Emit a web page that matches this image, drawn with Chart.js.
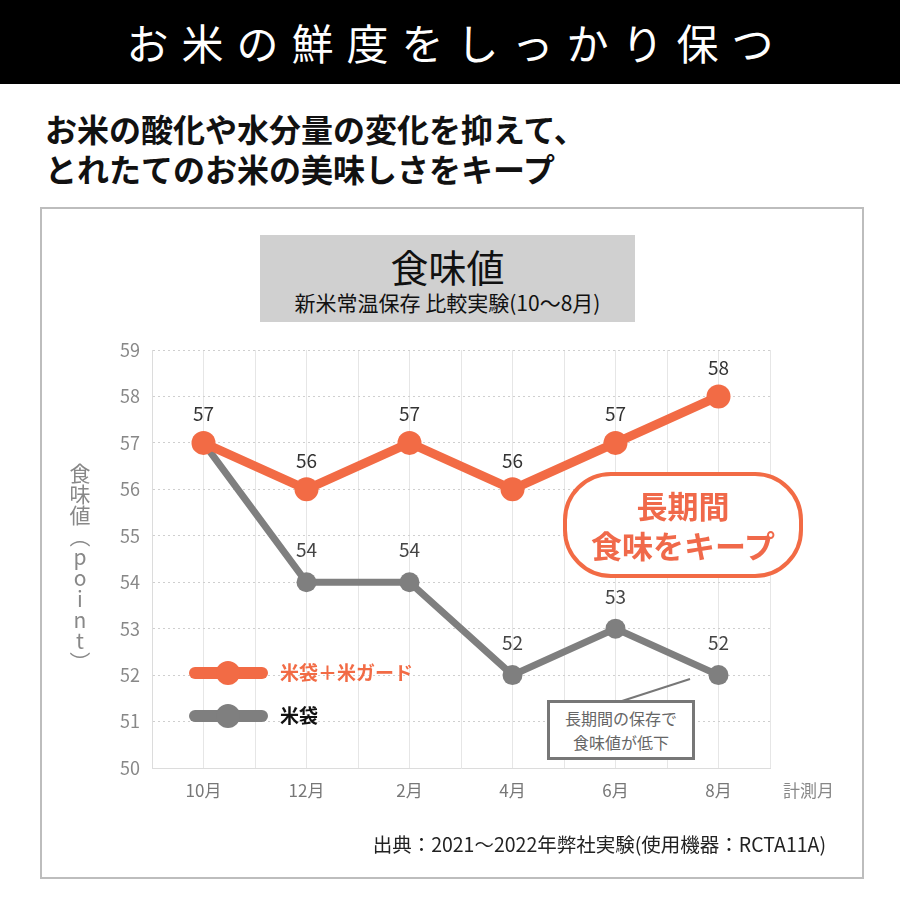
<!DOCTYPE html>
<html lang="ja">
<head>
<meta charset="utf-8">
<script src="https://cdn.jsdelivr.net/npm/chart.js@4"></script>
<style>
  html, body { margin: 0; padding: 0; }
  body { width: 900px; height: 900px; position: relative; background: #fff; overflow: hidden;
         font-family: "Noto Sans CJK JP", "Noto Sans", sans-serif; }
  .abs { position: absolute; }
  #header { left: 0; top: 0; width: 900px; height: 84px; background: #000; color: #fff;
            font-size: 42px; line-height: 84px; text-align: center; letter-spacing: 13px; text-indent: 13px; }
  #lead { left: 45px; top: 108px; font-size: 32px; font-weight: 700; line-height: 40px; color: #111; }
  #frame { left: 40px; top: 207px; width: 820px; height: 668px; border: 2px solid #bdbdbd; }
  #titleBox { left: 260px; top: 235px; width: 375px; height: 87px; background: #d0d0d0; text-align: center; color: #111; }
  #titleBox .big { font-size: 38px; line-height: 44px; margin-top: 9px; }
  #titleBox .small { font-size: 21px; line-height: 28px; }
  #chart { left: 0; top: 0; z-index: 1; }
  .over { z-index: 2; }
  #yTitle { left: 69px; top: 463px; font-size: 21px; color: #888; writing-mode: vertical-rl;
            text-orientation: upright; line-height: 21px; }
  #xTitle { left: 783px; top: 777px; font-size: 17px; color: #888; }
  #keep { left: 563px; top: 472px; width: 232px; height: 98px; border: 4px solid #f26b45; border-radius: 48px;
          background: #fff; color: #f0694a; font-weight: 700; font-size: 31px; line-height: 40px; text-align: center;
          display: flex; flex-direction: column; justify-content: center; }
  #drop { left: 547px; top: 700px; width: 142px; height: 54px; border: 3px solid #777; background: #fff;
          color: #666; font-size: 16px; line-height: 24px; text-align: center; display: flex; flex-direction: column; justify-content: center; }
  #source { left: 340px; top: 829px; width: 486px; text-align: right; font-size: 19.5px; color: #222; }
</style>
</head>
<body>
<div id="header" class="abs">お米の鮮度をしっかり保つ</div>
<div id="lead" class="abs">お米の酸化や水分量の変化を抑えて、<br>とれたてのお米の美味しさをキープ</div>
<div id="frame" class="abs"></div>
<div id="titleBox" class="abs"><div class="big">食味値</div><div class="small">新米常温保存 比較実験(10～8月)</div></div>
<canvas id="chart" class="abs" width="900" height="900"></canvas>
<div id="yTitle" class="abs over">食味値（point）</div>
<div id="xTitle" class="abs over">計測月</div>
<div id="keep" class="abs over"><div>長期間</div><div>食味をキープ</div></div>
<div id="drop" class="abs over"><div>長期間の保存で</div><div>食味値が低下</div></div>
<div id="source" class="abs over">出典：2021～2022年弊社実験(使用機器：RCTA11A)</div>
<script>
const months = ['10月', '12月', '2月', '4月', '6月', '8月'];
const guardValues = [57, 56, 57, 56, 57, 58];
const bagValues = [57, 54, 54, 52, 53, 52];
const seriesNames = ['米袋＋米ガード', '米袋'];
const yTicks = [50, 51, 52, 53, 54, 55, 56, 57, 58, 59];

const ORANGE = '#f26b45';
const GRAY = '#7f7f7f';
const FONT = '"Noto Sans CJK JP", "Noto Sans", sans-serif';

const toPoints = vals => vals.map((v, i) => ({ x: i, y: v }));

// value labels above each point
const valueLabels = {
  id: 'valueLabels',
  afterDatasetsDraw(chart) {
    const ctx = chart.ctx;
    ctx.save();
    ctx.font = '19px ' + FONT;
    ctx.textAlign = 'center';
    ctx.textBaseline = 'middle';
    chart.data.datasets.forEach((ds, di) => {
      const meta = chart.getDatasetMeta(di);
      meta.data.forEach((pt, i) => {
        if (di === 1 && i === 0) return;
        ctx.fillStyle = di === 0 ? '#333' : '#444';
        ctx.fillText(String(ds.data[i].y), pt.x, pt.y - (di === 0 ? 29 : 32));
      });
    });
    ctx.restore();
  }
};

// legend drawn inside the plot area, plus leader line for the note box
const innerLegend = {
  id: 'innerLegend',
  afterDraw(chart) {
    const ctx = chart.ctx;
    ctx.save();
    const rows = [
      { y: 673, color: ORANGE, text: seriesNames[0], textColor: ORANGE },
      { y: 716, color: GRAY, text: seriesNames[1], textColor: '#111' }
    ];
    rows.forEach(r => {
      ctx.strokeStyle = r.color;
      ctx.lineWidth = 12;
      ctx.lineCap = 'round';
      ctx.beginPath();
      ctx.moveTo(195, r.y);
      ctx.lineTo(262, r.y);
      ctx.stroke();
      ctx.fillStyle = r.color;
      ctx.beginPath();
      ctx.arc(228, r.y, 12, 0, Math.PI * 2);
      ctx.fill();
      ctx.fillStyle = r.textColor;
      ctx.font = 'bold 19px ' + FONT;
      ctx.textAlign = 'left';
      ctx.textBaseline = 'middle';
      ctx.fillText(r.text, 280, r.y);
    });
    ctx.strokeStyle = '#777';
    ctx.lineWidth = 2;
    ctx.lineCap = 'butt';
    ctx.beginPath();
    ctx.moveTo(622, 701);
    ctx.lineTo(690, 679);
    ctx.stroke();
    ctx.restore();
  }
};

new Chart(document.getElementById('chart'), {
  type: 'line',
  data: {
    datasets: [
      {
        label: seriesNames[0],
        data: toPoints(guardValues),
        borderColor: ORANGE,
        backgroundColor: ORANGE,
        borderWidth: 9,
        pointRadius: 12,
        pointHoverRadius: 12,
        pointBorderWidth: 0,
        tension: 0,
      },
      {
        label: seriesNames[1],
        data: toPoints(bagValues),
        borderColor: GRAY,
        backgroundColor: GRAY,
        borderWidth: 7,
        pointRadius: 10,
        pointHoverRadius: 10,
        pointBorderWidth: 0,
        tension: 0,
      }
    ]
  },
  options: {
    responsive: false,
    animation: false,
    layout: { padding: { left: 92, right: 130, top: 350, bottom: 92 } },
    plugins: { legend: { display: false }, tooltip: { enabled: false } },
    scales: {
      x: {
        type: 'linear',
        min: -0.5,
        max: 5.5,
        afterFit: s => { s.height = 40; },
        ticks: {
          stepSize: 0.5,
          autoSkip: false,
          maxRotation: 0,
          padding: 12,
          color: '#777',
          font: { size: 17, family: FONT },
          callback: v => Number.isInteger(v) ? months[v] : ''
        },
        grid: { color: '#e6e6e6', lineWidth: 1, drawTicks: false },
        border: { color: '#dcdcdc' }
      },
      y: {
        min: yTicks[0],
        max: yTicks[yTicks.length - 1],
        afterFit: s => { s.width = 60; },
        afterBuildTicks: s => { s.ticks = yTicks.map(v => ({ value: v })); },
        ticks: {
          padding: 12,
          color: '#888',
          font: { size: 18, family: FONT }
        },
        grid: { color: '#cfcfcf', lineWidth: 1, drawTicks: false },
        border: { color: '#dcdcdc', dash: [2, 3] }
      }
    }
  },
  plugins: [valueLabels, innerLegend]
});
</script>
</body>
</html>
